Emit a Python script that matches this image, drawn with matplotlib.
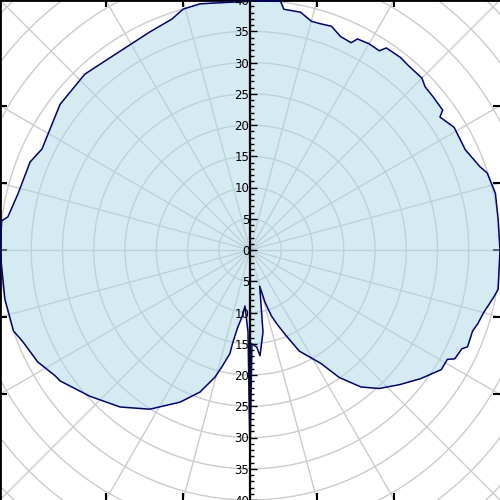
#######################################################################
# Directional pattern on a square frame, drawn with plain cartesian axes
#######################################################################
import numpy as np
import matplotlib
matplotlib.use('Agg')
import matplotlib.pyplot as plt
from matplotlib.ticker import MultipleLocator

########################  Data  ########################################
# direction in degrees, clockwise from north, and radius
angles = [0, 7, 8, 12, 15, 17, 20, 23, 26, 27, 30, 33, 34, 38, 40.5,
          45, 47, 50, 54, 55, 59, 65, 70, 72, 77, 83, 90, 99, 101, 105,
          108, 110, 114, 115, 118, 119, 122, 127, 132, 137, 141, 145,
          148, 154, 157, 160, 162, 164, 165, 171, 174.6, 176, 178.8, 180,
          181.4, 185.1, 186.8, 189, 190.5, 191, 193.5, 195.4, 199.4,
          204.7, 212.2, 219.6, 227.6, 235.4, 237.1, 242.2, 248, 251.1,
          258.7, 270, 276.7, 277.8, 283.6, 291.8, 295.9, 307.5, 316.8,
          326.8, 335.4, 341.3, 344.5, 348.5]
radii = [39.8, 40.1, 38.9, 38.9, 37.9, 37.9, 38.1, 37.1, 36.9, 37.9, 38.1,
         38.0, 39.0, 39.1, 38.9, 38.9, 38.3, 38.2, 38.1, 37.1, 38.1, 38.0,
         39.1, 39.9, 40.3, 40.0, 40.0, 40.2, 39.7, 38.7, 38.3, 37.9, 38.1,
         37.4, 37.1, 36.1, 36.1, 34.2, 32.2, 30.3, 28.2, 24.9, 21.4, 18.0,
         15.0, 12.6, 11.1, 8.7, 6.0, 13.3, 17.0, 15.6, 15.0, 33.0, 13.1,
         9.0, 10.8, 12.5, 15.0, 16.9, 19.2, 21.1, 24.1, 26.8, 30.1, 32.6,
         34.7, 36.9, 37.1, 38.4, 39.2, 40.0, 40.0, 40.0, 40.0, 39.1, 38.2,
         37.9, 37.0, 38.3, 38.6, 38.0, 38.4, 39.0, 40.0, 40.2]

ring_values = np.arange(5, 60, 5)
spoke_angles = np.arange(0, 360, 15)
axis_ticks = np.arange(-40, 45, 5)
axis_labels = [str(abs(v)) for v in axis_ticks]
edge = 40

######################## Figure ########################################
fig = plt.figure(figsize=(5, 5), dpi=100)
ax = fig.add_axes([0, 0, 1, 1])
ax.set_xlim(-edge, edge)
ax.set_ylim(-edge, edge)

# grid: rings and spokes
t = np.linspace(0, 2*np.pi, 721)
for r in ring_values:
    ax.plot(r*np.sin(t), r*np.cos(t), color='#cccccc', lw=1, zorder=1)
for a in np.radians(spoke_angles):
    ax.plot([0, 60*np.sin(a)], [0, 60*np.cos(a)], color='#cccccc', lw=1, zorder=1)

# pattern
th = np.radians(angles + [angles[0]])
rr = np.array(radii + [radii[0]])
x = rr*np.sin(th)
y = rr*np.cos(th)
ax.fill(x, y, facecolor='#add8e6', alpha=0.5, edgecolor='none', zorder=2)
ax.plot(x, y, color='navy', lw=1.1, zorder=3)

# frame ticks where the spokes meet the edge
frame_ticks = edge*np.tan(np.radians([-30, -15, 15, 30]))
ax.set_xticks(frame_ticks)
ax.set_yticks(sorted(list(frame_ticks) + [0]))
ax.tick_params(direction='in', length=5, width=1.5, top=True, right=True,
               labelleft=False, labelbottom=False)
ax.spines['right'].set_visible(False)
ax.spines['bottom'].set_visible(False)
ax.spines['left'].set_linewidth(2)
ax.spines['top'].set_linewidth(2)

# central radius axis
ax2 = fig.add_axes([0, 0, 1, 1], facecolor='none')
ax2.set_xlim(-edge, edge)
ax2.set_ylim(-edge, edge)
for s in ['right', 'top', 'bottom']:
    ax2.spines[s].set_visible(False)
ax2.spines['left'].set_position(('data', 0))
ax2.spines['left'].set_linewidth(1.6)
ax2.spines['left'].set_zorder(5)
ax2.set_xticks([])
ax2.set_yticks(axis_ticks)
ax2.set_yticklabels(axis_labels)
ax2.yaxis.set_minor_locator(MultipleLocator(1))
ax2.tick_params(axis='y', which='major', direction='in', length=5, width=1,
                pad=0.5, labelsize=8.5)
ax2.tick_params(axis='y', which='minor', direction='in', length=3, width=1)

fig.savefig('out.png', dpi=100)
